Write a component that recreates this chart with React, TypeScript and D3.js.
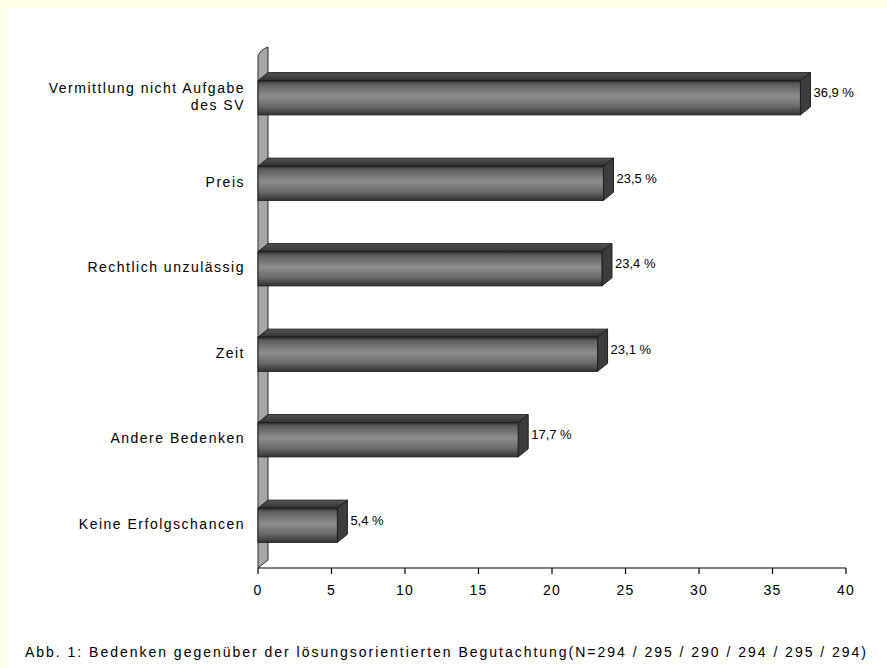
import * as d3 from "d3";

const categories = [
  ["Vermittlung nicht Aufgabe", "des SV"],
  ["Preis"],
  ["Rechtlich unzulässig"],
  ["Zeit"],
  ["Andere Bedenken"],
  ["Keine Erfolgschancen"],
];
const values = [36.9, 23.5, 23.4, 23.1, 17.7, 5.4];
const xTicks = [0, 5, 10, 15, 20, 25, 30, 35, 40];
const caption =
  "Abb. 1: Bedenken gegenüber der lösungsorientierten Begutachtung(N=294 / 295 / 290 / 294 / 295 / 294)";

const W = 887;
const H = 668;
const DX = 10;
const DY = 8;
const font = "'Liberation Sans', Arial, sans-serif";
const fs = 14;
const ls = 1.2;

export default function App() {
  const x = d3.scaleLinear().domain([0, 40]).range([258, 846]);
  const y = d3
    .scaleBand<number>()
    .domain(d3.range(values.length))
    .range([55, 568])
    .paddingInner(0.6)
    .paddingOuter(0.3);
  const bh = y.bandwidth();
  const x0 = x(0);
  const yBottom = 568;

  return (
    <>
      <style>{`body{margin:0}`}</style>
      <svg width={W} height={H} style={{ display: "block" }}>
        <defs>
          <linearGradient id="front" x1="0" y1="0" x2="0" y2="1">
            <stop offset="0" stopColor="#2e2e2e" />
            <stop offset="0.1" stopColor="#5c5c5c" />
            <stop offset="0.45" stopColor="#8e8e8e" />
            <stop offset="0.75" stopColor="#6a6a6a" />
            <stop offset="1" stopColor="#333333" />
          </linearGradient>
          <linearGradient id="topface" x1="0" y1="0" x2="0" y2="1">
            <stop offset="0" stopColor="#555555" />
            <stop offset="1" stopColor="#2f2f2f" />
          </linearGradient>
        </defs>
        <rect x={0} y={0} width={W} height={H} fill="#FFFFE6" />
        <rect x={7} y={8} width={W - 7} height={H - 8} fill="#ffffff" />

        {/* side wall */}
        <path
          d={`M${x0},${yBottom} L${x0},${56} Q${x0 + 2},${50} ${x0 + DX},${47} L${x0 + DX},${yBottom - DY} Z`}
          fill="#a6a6a6"
          stroke="#2a2a2a"
          strokeWidth={1}
        />

        {values.map((v, i) => {
          const top = y(i)!;
          const xe = x(v);
          return (
            <g key={i}>
              <path
                d={`M${x0},${top} L${x0 + DX},${top - DY} L${xe + DX},${top - DY} L${xe},${top} Z`}
                fill="url(#topface)"
                stroke="#1e1e1e"
                strokeWidth={1}
              />
              <path
                d={`M${xe},${top} L${xe + DX},${top - DY} L${xe + DX},${top + bh - DY} L${xe},${top + bh} Z`}
                fill="#3c3c3c"
                stroke="#1e1e1e"
                strokeWidth={1}
              />
              <rect
                x={x0}
                y={top}
                width={xe - x0}
                height={bh}
                fill="url(#front)"
                stroke="#1e1e1e"
                strokeWidth={1}
              />
              <text
                x={xe + DX + 3}
                y={top + bh / 2 - 4}
                dominantBaseline="middle"
                fontFamily={font}
                fontSize={13}
                fill="#000"
              >
                {v.toFixed(1).replace(".", ",")} %
              </text>
              {categories[i].map((line, j) => (
                <text
                  key={j}
                  x={245}
                  y={
                    top +
                    bh / 2 +
                    (j - (categories[i].length - 1) / 2) * 17
                  }
                  textAnchor="end"
                  dominantBaseline="middle"
                  fontFamily={font}
                  fontSize={fs}
                  letterSpacing={1.5}
                  fill="#000"
                >
                  {line}
                </text>
              ))}
            </g>
          );
        })}

        {/* x axis */}
        <line x1={x0} x2={x(40)} y1={yBottom} y2={yBottom} stroke="#000" strokeWidth={1.2} />
        {xTicks.map((t) => (
          <g key={t}>
            <line x1={x(t)} x2={x(t)} y1={yBottom} y2={yBottom + 6} stroke="#000" strokeWidth={1.2} />
            <text
              x={x(t)}
              y={591}
              textAnchor="middle"
              dominantBaseline="middle"
              fontFamily={font}
              fontSize={fs}
              letterSpacing={ls}
              fill="#000"
            >
              {t}
            </text>
          </g>
        ))}

        <text
          x={25}
          y={653}
          dominantBaseline="middle"
          fontFamily={font}
          fontSize={14}
          fill="#000"
          textLength={841}
          lengthAdjust="spacing"
        >
          {caption}
        </text>
      </svg>
    </>
  );
}
